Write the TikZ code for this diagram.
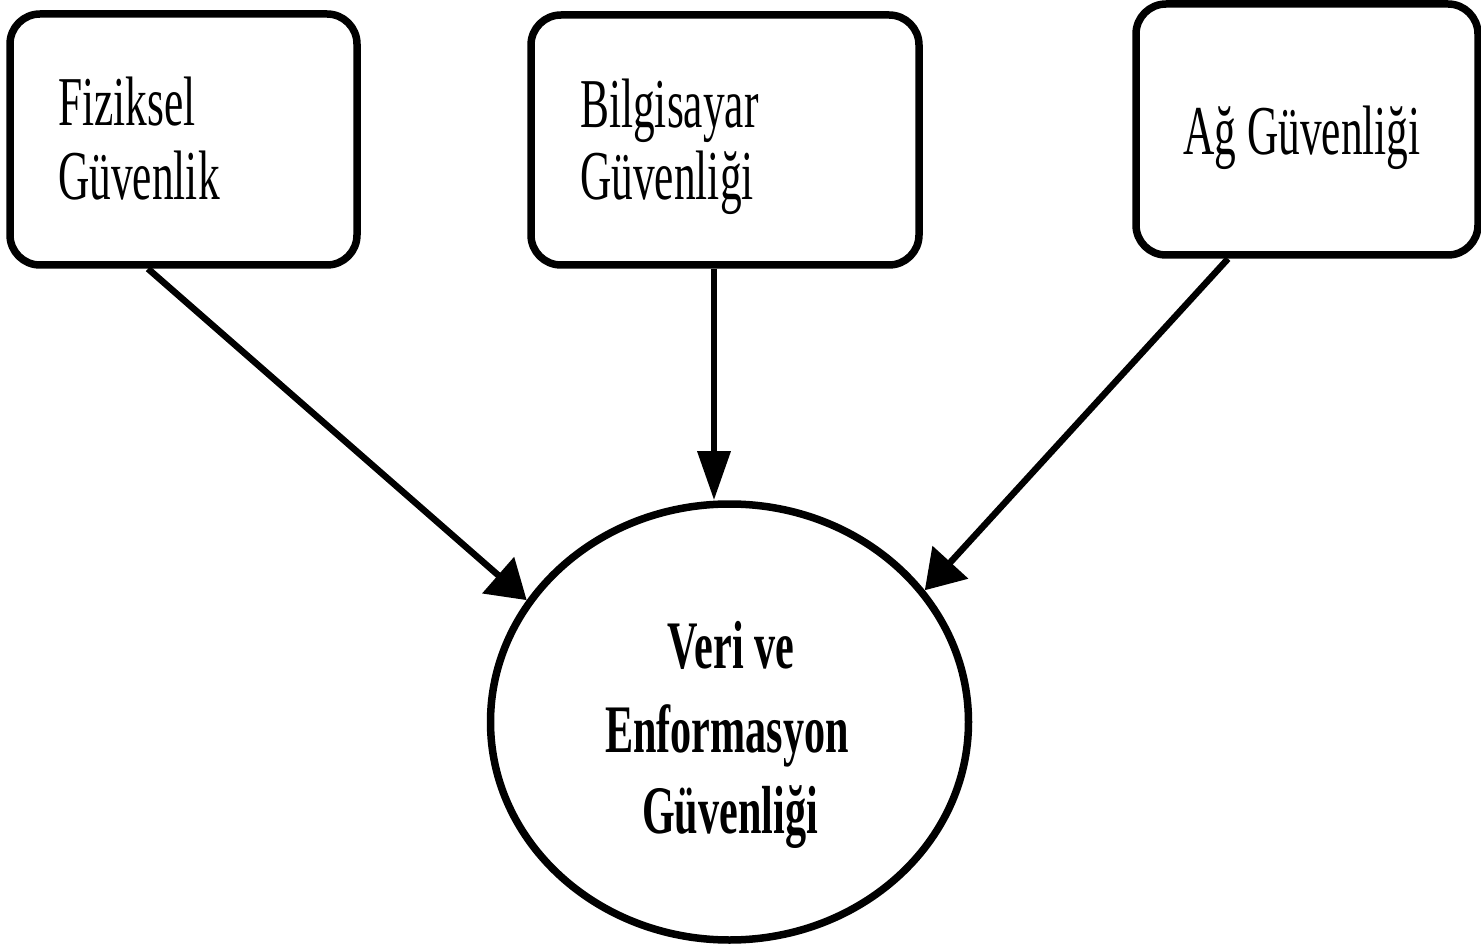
\documentclass[tikz,border=0pt]{standalone}
\usepackage{fontspec}
\setmainfont{Liberation Serif}[FakeStretch=0.62]
\usetikzlibrary{shapes.geometric,arrows.meta}

\begin{document}
\begin{tikzpicture}[x=1pt,y=-1pt,
  box/.style={draw, line width=7.5pt, rounded corners=30pt, inner sep=0pt},
  core/.style={draw, ellipse, line width=7.5pt, minimum width=478pt,
    minimum height=436pt, inner sep=0pt},
  boxtext/.style={anchor=base west, inner sep=0pt,
    font=\fontsize{70}{73}\selectfont},
  coretext/.style={anchor=base, inner sep=0pt,
    font=\bfseries\fontsize{68}{82}\selectfont},
  link/.style={line width=6.5pt},
  diaghead/.style={-{Triangle[length=38pt,width=47pt]}},
  verthead/.style={-{Triangle[length=49pt,width=32pt]}}]

  \useasboundingbox (0,0) rectangle (1481,949);

  % the three source boxes
  \node[box, minimum width=347pt, minimum height=251pt] (fiz) at (183.5,139.5) {};
  \node[box, minimum width=388pt, minimum height=250pt] (bil) at (725,140) {};
  \node[box, minimum width=342pt, minimum height=251pt] (ag)  at (1307,129.5) {};

  % the central ellipse
  \node[core] (veri) at (729.5,722) {};

  % box texts
  \node[boxtext] (fizA) at (58,126)   {Fiziksel};
  \node[boxtext] (fizB) at (58,200)   {Güvenlik};
  \node[boxtext] (bilA) at (580,128)  {Bilgisayar};
  \node[boxtext] (bilB) at (580,200)  {Güvenliği};
  \node[boxtext] (agA)  at (1183,155) {Ağ Güvenliği};

  % ellipse text
  \node[coretext] (veriA) at (731,668) {Veri ve};
  \node[coretext] (veriB) at (727,752) {Enformasyon};
  \node[coretext] (veriC) at (730,833) {Güvenliği};

  % connectors
  \coordinate (s1) at ([xshift=-35.5pt]fiz.south);
  \coordinate (s2) at ([xshift=-11pt]bil.south);
  \coordinate (s3) at ([xshift=-79pt]ag.south);

  \draw[link, diaghead] (s1) -- (veri.149);
  \draw[link, verthead] (s2) -- (s2 |- veri.north);
  \draw[link, diaghead] (s3) -- (veri.34.6);
\end{tikzpicture}
\end{document}
